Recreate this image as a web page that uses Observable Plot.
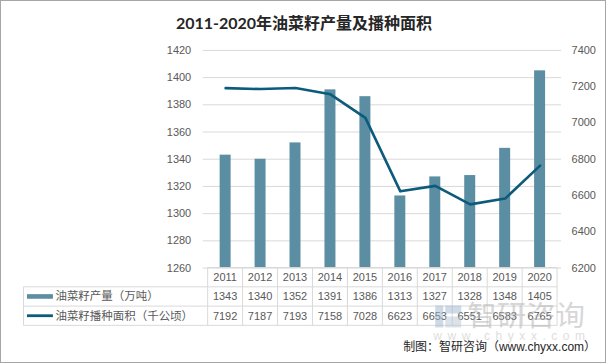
<!DOCTYPE html>
<html><head><meta charset="utf-8">
<script src="https://cdn.jsdelivr.net/npm/d3@7"></script>
<script src="https://cdn.jsdelivr.net/npm/@observablehq/plot@0.6"></script>
<style>
body{margin:0;background:#fff;}
#wrap{position:relative;width:606px;height:363px;box-sizing:border-box;border:1px solid #a6a6a6;overflow:hidden;background:#fff;}
#title{position:absolute;left:0;top:10px;width:606px;text-align:center;font:bold 16px Lato,"Noto Sans CJK SC",sans-serif;color:#262626;line-height:23px;}
#chart{position:absolute;left:-1px;top:-1px;}
</style></head><body>
<div id="wrap"><div id="chart"></div><div id="title">2011-2020年油菜籽产量及播种面积</div></div>
<script>
const years = ["2011","2012","2013","2014","2015","2016","2017","2018","2019","2020"];
const output = [1343,1340,1352,1391,1386,1313,1327,1328,1348,1405];
const area = [7192,7187,7193,7158,7028,6623,6653,6551,6583,6765];
const seriesNames = ["油菜籽产量（万吨）","油菜籽播种面积（千公顷）"];
const leftTicks = [1260,1280,1300,1320,1340,1360,1380,1400,1420];
const rightTicks = [6200,6400,6600,6800,7000,7200,7400];
const caption = "制图：智研咨询（www.chyxx.com）";
const watermark = "智研咨询";
const watermarkUrl = "www.chyxx.com";

const barColor = "#5b8ea3";
const lineColor = "#0d5b7a";
const gridColor = "#d9d9d9";
const textColor = "#595959";
const font = '"Liberation Sans","Noto Sans CJK SC",sans-serif';

const [L0, L1] = [leftTicks[0], leftTicks[leftTicks.length-1]];
const [R0, R1] = [rightTicks[0], rightTicks[rightTicks.length-1]];
const toLeft = v => L0 + (v - R0) * (L1 - L0) / (R1 - R0);
const rightLabel = new Map(rightTicks.map(t => [toLeft(t), String(t)]));

const data = years.map((y, i) => ({year: y, output: output[i], area: area[i]}));

const chart = Plot.plot({
  width: 606, height: 363,
  marginTop: 50, marginBottom: 95, marginLeft: 203, marginRight: 44,
  style: {fontFamily: font, fontSize: "11px", color: textColor, background: "transparent"},
  x: {domain: years, padding: 0, axis: null},
  y: {domain: [L0, L1], axis: null},
  marks: [
    Plot.gridY(leftTicks, {stroke: gridColor, strokeOpacity: 1, strokeWidth: 1}),
    Plot.axisY(leftTicks, {anchor: "left", label: null, tickSize: 0, tickPadding: 12, fontSize: 11, fill: textColor,
      tickFormat: v => String(v)}),
    Plot.axisY(rightTicks.map(toLeft), {anchor: "right", label: null, tickSize: 0, tickPadding: 10, fontSize: 11, fill: textColor,
      tickFormat: v => rightLabel.get(v)}),
    Plot.barY(data, {x: "year", y1: L0, y2: "output", fill: barColor, insetLeft: 12, insetRight: 12}),
    Plot.line(data, {x: "year", y: d => toLeft(d.area), stroke: lineColor, strokeWidth: 2.6, strokeLinejoin: "round"})
  ]
});
document.getElementById("chart").append(chart);

// data table under the chart, positioned with the plot's own x and y scales
const xs = chart.scale("x"), ys = chart.scale("y");
const svg = d3.select(chart);
const bw = xs.bandwidth;
const xLeft = xs.apply(years[0]);
const xRight = xs.apply(years[years.length-1]) + bw;
const top0 = ys.apply(L0);
const rowH = 19.3;
const legendX = 23.5;
const g = svg.append("g");
const rows = [top0, top0 + rowH, top0 + 2*rowH, top0 + 3*rowH];
rows.forEach((y, i) => {
  g.append("line").attr("x1", i === 0 ? xLeft : legendX).attr("x2", xRight)
    .attr("y1", y).attr("y2", y).attr("stroke", gridColor);
});
years.forEach(yr => {
  const x = xs.apply(yr);
  g.append("line").attr("x1", x).attr("x2", x).attr("y1", rows[0]).attr("y2", rows[3]).attr("stroke", gridColor);
});
g.append("line").attr("x1", xRight).attr("x2", xRight).attr("y1", rows[0]).attr("y2", rows[3]).attr("stroke", gridColor);
g.append("line").attr("x1", legendX).attr("x2", legendX).attr("y1", rows[1]).attr("y2", rows[3]).attr("stroke", gridColor);

const cellText = (x, y, s, anchor, size) => g.append("text").attr("x", x).attr("y", y).attr("dy", "0.35em")
  .attr("text-anchor", anchor || "middle").attr("fill", textColor)
  .style("font-family", font).style("font-size", size || "11px").text(s);
years.forEach((yr, i) => {
  const cx = xs.apply(yr) + bw/2;
  cellText(cx, rows[0] + rowH/2, yr);
  cellText(cx, rows[1] + rowH/2, output[i]);
  cellText(cx, rows[2] + rowH/2, area[i]);
});
// legend keys
g.append("rect").attr("x", 27).attr("width", 26).attr("y", rows[1] + rowH/2 - 2.3).attr("height", 4.6).attr("fill", barColor);
g.append("line").attr("x1", 27).attr("x2", 53).attr("y1", rows[2] + rowH/2).attr("y2", rows[2] + rowH/2)
  .attr("stroke", lineColor).attr("stroke-width", 2.8);
cellText(55.5, rows[1] + rowH/2, seriesNames[0], "start", "11.5px");
cellText(55.5, rows[2] + rowH/2, seriesNames[1], "start", "11.5px");

// watermark
const wm = svg.append("g").attr("opacity", 0.5);
wm.append("rect").attr("x", 436).attr("y", 306).attr("width", 8).attr("height", 22).attr("fill", "#9fb6cf");
wm.append("rect").attr("x", 446).attr("y", 306).attr("width", 16).attr("height", 8).attr("fill", "#9fb6cf");
wm.append("rect").attr("x", 446).attr("y", 317).attr("width", 16).attr("height", 11).attr("fill", "#b9c7d6");
wm.append("text").attr("x", 468).attr("y", 327).attr("text-anchor", "start").attr("fill", "#b0b0b0")
  .attr("textLength", 118).attr("lengthAdjust", "spacingAndGlyphs")
  .style("font-family", '"Noto Sans CJK SC",sans-serif').style("font-size", "29px").text(watermark);
wm.append("text").attr("x", 434).attr("y", 341).attr("text-anchor", "start").attr("fill", "#c0c0c0")
  .attr("textLength", 152).attr("lengthAdjust", "spacing")
  .style("font-family", font).style("font-size", "12px").text(watermarkUrl);

// caption
svg.append("text").attr("x", 597).attr("y", 352).attr("text-anchor", "end").attr("fill", "#262626")
  .style("font-family", '"Liberation Sans","Noto Sans CJK SC",sans-serif').style("font-size", "12px").text(caption);
</script>
</body></html>
